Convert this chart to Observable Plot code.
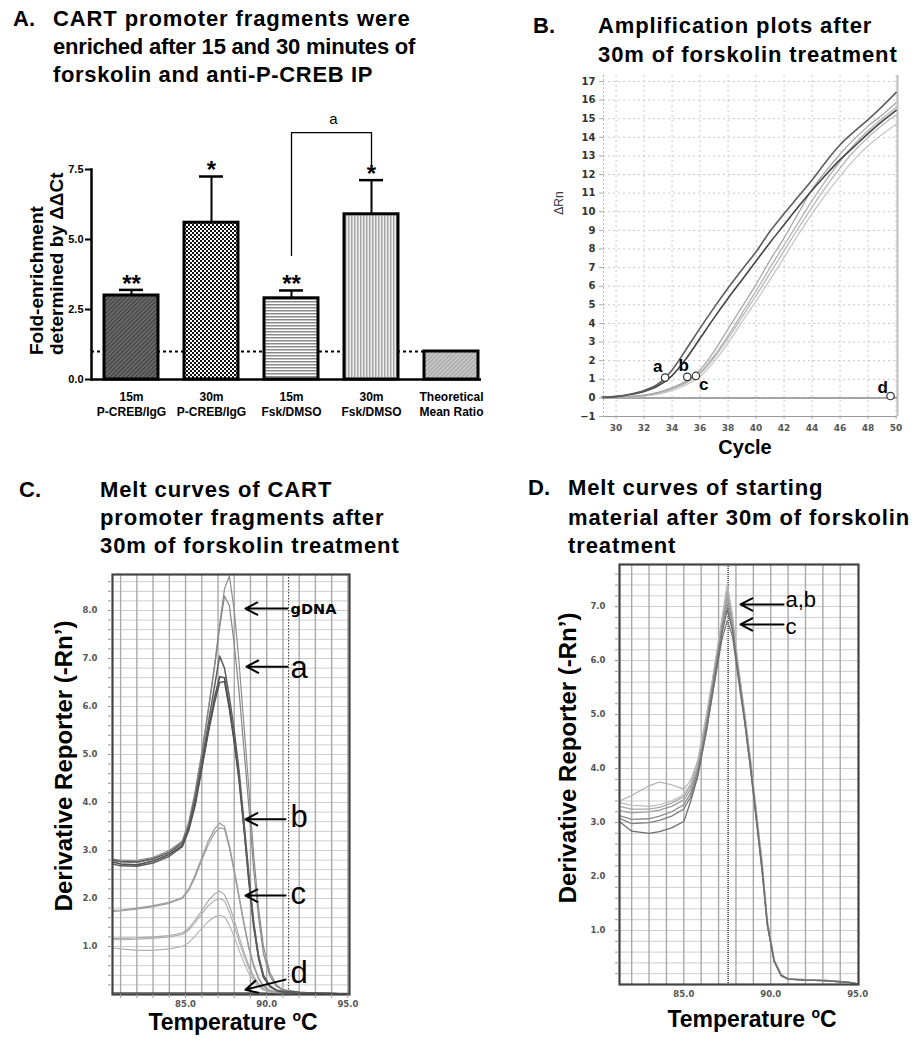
<!DOCTYPE html>
<html><head><meta charset="utf-8">
<script src="https://cdn.jsdelivr.net/npm/d3@7"></script>
<script src="https://cdn.jsdelivr.net/npm/@observablehq/plot@0.6"></script>
<style>
html,body{margin:0;padding:0;background:#fff;}
#page{position:relative;width:924px;height:1050px;overflow:hidden;background:#fff;}
.panel{position:absolute;}
.panel svg{overflow:visible;}
#overlay{position:absolute;left:0;top:0;pointer-events:none;}
</style></head>
<body><div id="page"></div>
<script>
// ================= DATA =================
// Panel A: fold enrichment bars
const aCategories = ["15m\nP-CREB/IgG", "30m\nP-CREB/IgG", "15m\nFsk/DMSO", "30m\nFsk/DMSO", "Theoretical\nMean Ratio"];
const aMeans = [3.0, 5.6, 2.9, 5.9, 1.0];
const aErrorTops = [3.2, 7.25, 3.18, 7.12, null];
const aStars = ["**", "*", "**", "*", ""];
const aTheoretical = 1.0;
const aYTicks = [0, 2.5, 5.0, 7.5];
const aBracketIdx = [2, 2, 3, 3];
const aBracketLevels = [4.43, 8.82, 8.82, 7.55];
const aBracketLabel = "a";
const aBracketLabelLevel = 9.3;

// Panel B: amplification plots
const bCycles = [29,30,31,32,33,34,35,36,37,38,39,40,41,42,43,44,45,46,47,48,49,50];
const bDark1 = [0.03,0.08,0.2,0.4,0.75,1.5,2.6,3.75,4.85,5.9,6.9,7.85,8.95,9.9,10.8,11.7,12.7,13.6,14.3,14.95,15.65,16.4];
const bDark2 = [0.03,0.07,0.18,0.35,0.65,1.2,2.1,3.2,4.3,5.35,6.35,7.35,8.35,9.3,10.25,11.15,12.0,12.8,13.5,14.2,14.85,15.45];
const bLight1 = [0.01,0.03,0.08,0.15,0.3,0.55,0.9,1.5,2.5,3.7,4.9,6.1,7.4,8.6,9.9,11.2,12.2,13.1,13.9,14.6,15.2,15.85];
const bLight2 = [0.01,0.03,0.07,0.14,0.28,0.5,0.85,1.35,2.25,3.35,4.55,5.75,7.0,8.2,9.4,10.6,11.7,12.7,13.6,14.35,15.0,15.6];
const bLight3 = [0.01,0.03,0.07,0.13,0.25,0.48,0.8,1.3,2.15,3.2,4.35,5.5,6.7,7.9,9.1,10.25,11.35,12.35,13.25,14.0,14.65,15.2];
const bLight4 = [0.01,0.02,0.05,0.1,0.2,0.4,0.7,1.15,1.95,2.95,4.1,5.2,6.35,7.55,8.75,9.9,10.95,11.9,12.8,13.55,14.15,14.7];
const bCtLabels = ["a", "b", "c", "d"];
const bCtCycles = [33.5, 35.08, 35.7, 49.6];
const bCtValues = [1.09, 1.13, 1.18, 0.1];
const bLabelCycles = [32.97, 34.82, 36.26, 49.04];
const bLabelValues = [1.67, 1.72, 0.73, 0.56];
const bXTicks = [30,32,34,36,38,40,42,44,46,48,50];
const bYTicks = [-1,0,1,2,3,4,5,6,7,8,9,10,11,12,13,14,15,16,17];

// Panel C: melt curves of CART promoter fragments
const cTemps = [80.5,81,82,83,84,84.8,85.2,85.6,86,86.4,86.8,87.1,87.4,87.7,88,88.3,88.6,88.9,89.2,89.5,89.8,90.2,90.6,91,92,93,94,95];
const cA1 = [2.8,2.77,2.76,2.83,2.96,3.15,3.5,4.1,4.85,5.65,6.45,7.05,6.8,6.2,5.5,4.65,3.6,2.5,1.5,0.8,0.4,0.18,0.09,0.06,0.04,0.03,0.02,0.01];
const cA2 = [2.76,2.72,2.7,2.78,2.92,3.1,3.45,4.0,4.75,5.5,6.2,6.62,6.6,6.0,5.3,4.5,3.5,2.4,1.45,0.78,0.38,0.17,0.09,0.06,0.04,0.03,0.02,0.01];
const cA3 = [2.72,2.68,2.67,2.74,2.88,3.08,3.42,3.95,4.7,5.45,6.1,6.5,6.52,5.95,5.25,4.45,3.45,2.35,1.4,0.75,0.36,0.16,0.08,0.05,0.03,0.02,0.02,0.01];
const cG1 = [2.82,2.8,2.79,2.86,3.0,3.2,3.6,4.25,5.05,5.95,6.9,7.7,8.45,8.72,8.0,6.9,5.6,4.3,2.9,1.8,1.0,0.45,0.2,0.1,0.05,0.03,0.02,0.01];
const cG2 = [2.79,2.76,2.75,2.82,2.97,3.18,3.55,4.2,5.0,5.9,6.85,7.65,8.3,8.1,7.3,6.3,5.1,3.9,2.6,1.6,0.85,0.38,0.17,0.09,0.05,0.03,0.02,0.01];
const cC1 = [1.75,1.76,1.8,1.85,1.92,2.02,2.2,2.5,2.85,3.2,3.45,3.57,3.5,3.1,2.6,2.05,1.5,1.0,0.62,0.35,0.18,0.09,0.05,0.03,0.02,0.02,0.01,0.01];
const cC2 = [1.73,1.74,1.78,1.83,1.9,2.0,2.17,2.45,2.8,3.12,3.37,3.47,3.45,3.05,2.55,2.0,1.45,0.95,0.58,0.32,0.16,0.08,0.04,0.03,0.02,0.01,0.01,0.01];
const cE1 = [1.17,1.17,1.18,1.2,1.23,1.28,1.38,1.55,1.75,1.95,2.1,2.15,2.08,1.85,1.55,1.2,0.88,0.6,0.38,0.22,0.12,0.06,0.04,0.03,0.02,0.01,0.01,0.01];
const cE2 = [1.14,1.14,1.15,1.17,1.2,1.25,1.34,1.5,1.68,1.85,1.96,2.0,1.95,1.72,1.42,1.1,0.8,0.54,0.34,0.2,0.11,0.05,0.03,0.02,0.01,0.01,0.01,0.01];
const cE3 = [0.97,0.95,0.92,0.92,0.95,1.0,1.08,1.22,1.38,1.52,1.62,1.65,1.62,1.45,1.2,0.92,0.66,0.44,0.28,0.16,0.09,0.05,0.03,0.02,0.01,0.01,0.01,0.01];
const cD = [0.03,0.03,0.03,0.03,0.03,0.03,0.03,0.03,0.03,0.03,0.03,0.03,0.03,0.03,0.03,0.03,0.03,0.03,0.03,0.03,0.03,0.02,0.02,0.02,0.02,0.02,0.02,0.02];
const cMarkerTemp = 91.35;
const cLabels = ["gDNA", "a", "b", "c", "d"];
const cLabelTemps = [91.47, 91.47, 91.47, 91.47, 91.47];
const cLabelValues = [8.02, 6.81, 3.69, 2.1, 0.44];
const cArrowFromT = [91.28, 91.28, 91.16, 91.16, 91.16];
const cArrowFromV = [8.04, 6.83, 3.65, 2.06, 0.31];
const cArrowToT = [88.69, 88.75, 88.69, 88.69, 88.69];
const cArrowToV = [8.04, 6.83, 3.65, 2.06, 0.1];
const cYMajor = [1,2,3,4,5,6,7,8];
const cXLabels = [85, 90, 95];

// Panel D: melt curves of starting material
const dTemps = [81.3,82,83,83.6,84.3,85,85.4,85.8,86.3,86.8,87.2,87.5,87.8,88.1,88.5,88.85,89.2,89.5,89.8,90.2,90.6,91,92,93,94,94.5,95];
const dM1 = [3.37,3.32,3.3,3.33,3.4,3.52,3.72,4.1,4.95,5.95,6.8,7.42,6.85,6.0,5.05,4.15,3.15,2.3,1.2,0.46,0.18,0.11,0.09,0.08,0.06,0.04,0.01];
const dM2 = [3.4,3.5,3.68,3.75,3.7,3.62,3.78,4.15,5.0,5.95,6.75,7.3,6.8,5.95,5.0,4.1,3.1,2.25,1.18,0.45,0.18,0.1,0.09,0.08,0.06,0.04,0.01];
const dM3 = [3.22,3.18,3.2,3.23,3.3,3.42,3.62,4.0,4.85,5.85,6.65,7.17,6.7,5.9,4.95,4.05,3.05,2.2,1.15,0.44,0.17,0.1,0.08,0.07,0.06,0.04,0.01];
const dM4 = [3.13,3.06,3.07,3.12,3.2,3.33,3.55,3.95,4.8,5.8,6.6,7.05,6.6,5.85,4.9,4.0,3.0,2.15,1.12,0.43,0.17,0.1,0.08,0.07,0.05,0.04,0.01];
const dM5 = [3.08,2.98,3.0,3.04,3.12,3.25,3.48,3.88,4.7,5.65,6.4,6.74,6.45,5.75,4.85,3.95,2.95,2.1,1.1,0.42,0.16,0.1,0.08,0.07,0.05,0.04,0.01];
const dM6 = [3.02,2.84,2.8,2.83,2.9,3.02,3.4,3.85,4.7,5.7,6.5,6.95,6.55,5.8,4.9,4.0,3.0,2.15,1.12,0.43,0.17,0.1,0.08,0.07,0.05,0.04,0.01];
const dM7 = [3.3,3.25,3.25,3.28,3.36,3.48,3.68,4.05,4.9,5.9,6.72,7.3,6.75,5.95,5.0,4.1,3.1,2.25,1.18,0.45,0.18,0.1,0.09,0.08,0.06,0.04,0.01];
const dMarkerTemp = 87.55;
const dLabels = ["a,b", "c"];
const dLabelTemps = [90.85, 90.85];
const dLabelValues = [7.13, 6.62];
const dArrowFromT = [90.74, 90.74];
const dArrowToT = [88.26, 88.26];
const dArrowV = [7.04, 6.67];
const dYMajor = [1,2,3,4,5,6,7];
const dXLabels = [85, 90, 95];

// Text
const titleA = ["CART promoter fragments were", "enriched after 15 and 30 minutes of", "forskolin and anti-P-CREB IP"];
const titleB = ["Amplification plots after", "30m of forskolin treatment"];
const titleC = ["Melt curves of CART", "promoter fragments after", "30m of forskolin treatment"];
const titleD = ["Melt curves of starting", "material after 30m of forskolin", "treatment"];

// ================= RENDER =================
const FONT = "'Liberation Sans', Arial, Helvetica, sans-serif";
const SMALL = "'DejaVu Sans', Verdana, sans-serif";
const page = document.getElementById("page");
const baseStyle = {background: "transparent", fontFamily: FONT, overflow: "visible", maxWidth: "none", color: "#000"};
function place(el, left, top) {
  const d = document.createElement("div");
  d.className = "panel"; d.style.left = left + "px"; d.style.top = top + "px";
  d.appendChild(el); page.appendChild(d);
}
const rows = (xs, ys) => xs.map((x, i) => ({x, y: ys[i]}));

// ---- Panel A ----
const aPatterns = ["url(#pA1)", "url(#pA2)", "url(#pA3)", "url(#pA4)", "url(#pA5)"];
const aData = aCategories.map((c, i) => ({cat: c, mean: aMeans[i], err: aErrorTops[i], star: aStars[i], pat: aPatterns[i]}));
const aErr = aData.filter(d => d.err != null);
const aBracket = aBracketIdx.map((k, i) => ({cat: aCategories[k], v: aBracketLevels[i]}));
const plotA = Plot.plot({
  width: 500, height: 330,
  marginLeft: 91, marginRight: 9, marginTop: 69, marginBottom: 51,
  style: baseStyle,
  x: {domain: aCategories, padding: 0, axis: null},
  y: {domain: [0, 7.5], axis: null},
  color: {type: "identity"},
  marks: [
    Plot.ruleY([aTheoretical], {strokeDasharray: "3,3", strokeWidth: 2, insetRight: 13}),
    Plot.barY(aData, {x: "cat", y: "mean", fill: "pat", stroke: "#000", strokeWidth: 3, insetLeft: 13, insetRight: 13}),
    Plot.ruleX(aErr, {x: "cat", y1: "mean", y2: "err", strokeWidth: 2}),
    Plot.tickY(aErr, {x: "cat", y: "err", strokeWidth: 2.5, insetLeft: 28, insetRight: 28}),
    Plot.text(aErr, {x: "cat", y: "err", text: "star", dy: -6, fontSize: 24, fontWeight: "bold"}),
    Plot.line(aBracket, {x: "cat", y: "v", strokeWidth: 1.3}),
    Plot.text([{cat: aCategories[3], v: aBracketLabelLevel, t: aBracketLabel}], {x: "cat", y: "v", text: "t", dx: -38, fontSize: 15}),
    Plot.ruleY([0], {strokeWidth: 2.5, insetRight: 10}),
    Plot.frame({anchor: "left", strokeWidth: 2.5}),
    Plot.axisY({ticks: aYTicks, tickFormat: d3.format(".1f"), tickSize: 6, tickPadding: 2, strokeWidth: 2, fontSize: 11, fontWeight: "bold", label: null}),
    Plot.text(aData, {x: "cat", y: 0, text: "cat", lineAnchor: "top", dy: 10, fontSize: 12, fontWeight: "bold", lineHeight: 1.3})
  ]
});
d3.select(plotA).insert("defs", ":first-child").html(`
  <pattern id="pA1" width="3" height="3" patternUnits="userSpaceOnUse" patternTransform="rotate(45)"><rect width="3" height="3" fill="#6e6e6e"/><rect width="1.2" height="3" fill="#3c3c3c"/></pattern>
  <pattern id="pA2" width="4" height="4" patternUnits="userSpaceOnUse"><rect width="4" height="4" fill="#fff"/><rect width="2" height="2" fill="#111"/><rect x="2" y="2" width="2" height="2" fill="#111"/></pattern>
  <pattern id="pA3" width="4" height="3" patternUnits="userSpaceOnUse"><rect width="4" height="3" fill="#fff"/><rect width="4" height="1.5" fill="#8a8a8a"/></pattern>
  <pattern id="pA4" width="3" height="4" patternUnits="userSpaceOnUse"><rect width="3" height="4" fill="#ececec"/><rect width="1.5" height="4" fill="#a8a8a8"/></pattern>
  <pattern id="pA5" width="3" height="3" patternUnits="userSpaceOnUse" patternTransform="rotate(45)"><rect width="3" height="3" fill="#c6c6c6"/><rect width="1" height="3" fill="#a2a2a2"/></pattern>`);
place(plotA, 0, 100);

// ---- Panel B ----
const bSeries = [
  {ys: bLight4, stroke: "#c6c6c6", w: 1.3},
  {ys: bLight3, stroke: "#b8b8b8", w: 1.3},
  {ys: bLight2, stroke: "#b2b2b2", w: 1.3},
  {ys: bLight1, stroke: "#a8a8a8", w: 1.3},
  {ys: bDark2, stroke: "#444", w: 1.6},
  {ys: bDark1, stroke: "#5c5c5c", w: 1.6}
];
const bCt = bCtLabels.map((l, i) => ({label: l, cx: bCtCycles[i], cy: bCtValues[i], lx: bLabelCycles[i], ly: bLabelValues[i]}));
const plotB = Plot.plot({
  width: 454, height: 400,
  marginLeft: 133, marginRight: 27, marginTop: 15, marginBottom: 44,
  style: baseStyle,
  x: {domain: [29.1, 50.1], axis: null},
  y: {domain: [-1, 17.32], axis: null},
  marks: [
    Plot.gridY({ticks: bYTicks, stroke: "#c8c8c8", strokeOpacity: 1, strokeDasharray: "2,3"}),
    Plot.gridX({ticks: bXTicks, stroke: "#c8c8c8", strokeOpacity: 1, strokeDasharray: "2,3"}),
    Plot.ruleX([29.1], {stroke: "#b5b5b5", strokeDasharray: "2,2"}),
    Plot.ruleY([-1], {stroke: "#9a9a9a", strokeWidth: 1.2}),
    Plot.ruleX([50.1], {stroke: "#bdbdbd", strokeWidth: 2}),
    Plot.ruleY([0], {stroke: "#8a8a8a", strokeWidth: 1.5}),
    ...bSeries.map(s => Plot.line(rows(bCycles, s.ys), {x: "x", y: "y", stroke: s.stroke, strokeWidth: s.w, curve: "monotone-x"})),
    Plot.dot(bCt, {x: "cx", y: "cy", r: 3.7, stroke: "#333", strokeWidth: 1.2, fill: "white"}),
    Plot.text(bCt, {x: "lx", y: "ly", text: "label", fontSize: 17, fontWeight: "bold"}),
    Plot.axisY({ticks: bYTicks, tickSize: 4, tickPadding: 4, fontSize: 10, fontWeight: "bold", fontFamily: SMALL, fill: "#333", stroke: "#aaa", label: null}),
    Plot.axisX({ticks: bXTicks, tickSize: 3, tickPadding: 5, fontSize: 9, fontWeight: "bold", fontFamily: SMALL, fill: "#555", stroke: "#aaa", label: null})
  ]
});
place(plotB, 470, 60);

// ---- Panel C ----
const cSeries = [
  {ys: cD, stroke: "#555", w: 1.6},
  {ys: cE3, stroke: "#b2b2b2", w: 1.1},
  {ys: cE2, stroke: "#acacac", w: 1.1},
  {ys: cE1, stroke: "#a6a6a6", w: 1.1},
  {ys: cC2, stroke: "#a0a0a0", w: 1.2},
  {ys: cC1, stroke: "#9a9a9a", w: 1.2},
  {ys: cG1, stroke: "#8c8c8c", w: 1.2},
  {ys: cG2, stroke: "#858585", w: 1.2},
  {ys: cA3, stroke: "#5a5a5a", w: 1.5},
  {ys: cA2, stroke: "#505050", w: 1.6},
  {ys: cA1, stroke: "#5e5e5e", w: 1.5}
];
const cGridV = d3.range(81, 96, 1);
const cGridH = d3.range(1, 44).map(i => +(i * 0.2).toFixed(1));
const cArrows = cLabels.map((l, i) => ({x1: cArrowFromT[i], y1: cArrowFromV[i], x2: cArrowToT[i], y2: cArrowToV[i]}));
const cText = cLabels.map((l, i) => ({t: l, x: cLabelTemps[i], y: cLabelValues[i]}));
const plotC = Plot.plot({
  width: 470, height: 460,
  marginLeft: 112, marginRight: 121, marginTop: 14, marginBottom: 26,
  style: baseStyle,
  x: {domain: [80.5, 95.1], axis: null},
  y: {domain: [0, 8.75], axis: null},
  marks: [
    Plot.gridY({ticks: cGridH, stroke: "#cdcdcd", strokeOpacity: 1, strokeWidth: 1}),
    Plot.gridX({ticks: cGridV, stroke: "#a9a9a9", strokeOpacity: 1, strokeWidth: 1.4}),
    Plot.ruleX([cMarkerTemp], {stroke: "#333", strokeDasharray: "1.5,1.5"}),
    ...cSeries.map(s => Plot.line(rows(cTemps, s.ys), {x: "x", y: "y", stroke: s.stroke, strokeWidth: s.w})),
    Plot.arrow(cArrows, {x1: "x1", y1: "y1", x2: "x2", y2: "y2", stroke: "#000", strokeWidth: 2, headLength: 10, headAngle: 55}),
    Plot.text(cText.slice(0, 1), {x: "x", y: "y", text: "t", textAnchor: "start", fontSize: 14.5, fontWeight: "bold", fontFamily: SMALL}),
    Plot.text(cText.slice(1), {x: "x", y: "y", text: "t", textAnchor: "start", fontSize: 31}),
    Plot.frame({stroke: "#444", strokeWidth: 2.2}),
    Plot.axisY({ticks: cGridH, tickSize: 4, tickFormat: () => "", stroke: "#999", label: null}),
    Plot.axisY({ticks: cYMajor, tickSize: 4, tickPadding: 11, tickFormat: d3.format(".1f"), fontSize: 8.5, fontWeight: "bold", fontFamily: SMALL, fill: "#555", stroke: "#999", label: null}),
    Plot.axisX({ticks: cGridV, tickSize: 4, tickFormat: () => "", stroke: "#999", label: null}),
    Plot.axisX({ticks: cXLabels, tickSize: 0, tickPadding: 6, tickFormat: d3.format(".1f"), fontSize: 8.5, fontWeight: "bold", fontFamily: SMALL, fill: "#555", label: null})
  ]
});
place(plotC, 0, 560);

// ---- Panel D ----
const dSeries = [
  {ys: dM2, stroke: "#b0b0b0", w: 1.2},
  {ys: dM7, stroke: "#a8a8a8", w: 1.2},
  {ys: dM1, stroke: "#b8b8b8", w: 1.2},
  {ys: dM3, stroke: "#9a9a9a", w: 1.2},
  {ys: dM4, stroke: "#8a8a8a", w: 1.3},
  {ys: dM5, stroke: "#7e7e7e", w: 1.3},
  {ys: dM6, stroke: "#6e6e6e", w: 1.3}
];
const dGridV = d3.range(82, 95, 1);
const dGridH = d3.range(1, 39).map(i => +(i * 0.2).toFixed(1));
const dArrows = dLabels.map((l, i) => ({x1: dArrowFromT[i], x2: dArrowToT[i], y: dArrowV[i]}));
const dText = dLabels.map((l, i) => ({t: l, x: dLabelTemps[i], y: dLabelValues[i]}));
const plotD = Plot.plot({
  width: 454, height: 470,
  marginLeft: 149, marginRight: 66, marginTop: 14, marginBottom: 36,
  style: baseStyle,
  x: {domain: [81.3, 95.05], axis: null},
  y: {domain: [0, 7.78], axis: null},
  marks: [
    Plot.gridY({ticks: dGridH, stroke: "#cdcdcd", strokeOpacity: 1, strokeWidth: 1}),
    Plot.gridX({ticks: dGridV, stroke: "#a9a9a9", strokeOpacity: 1, strokeWidth: 1.4}),
    Plot.ruleX([dMarkerTemp], {stroke: "#444", strokeDasharray: "1,1", strokeWidth: 1.6}),
    ...dSeries.map(s => Plot.line(rows(dTemps, s.ys), {x: "x", y: "y", stroke: s.stroke, strokeWidth: s.w})),
    Plot.arrow(dArrows, {x1: "x1", y1: "y", x2: "x2", y2: "y", stroke: "#000", strokeWidth: 2, headLength: 10, headAngle: 55}),
    Plot.text(dText, {x: "x", y: "y", text: "t", textAnchor: "start", fontSize: 22}),
    Plot.frame({stroke: "#444", strokeWidth: 2.2}),
    Plot.axisY({ticks: dGridH, tickSize: 4, tickFormat: () => "", stroke: "#999", label: null}),
    Plot.axisY({ticks: dYMajor, tickSize: 4, tickPadding: 10, tickFormat: d3.format(".1f"), fontSize: 8.5, fontWeight: "bold", fontFamily: SMALL, fill: "#555", stroke: "#999", label: null}),
    Plot.axisX({ticks: dXLabels, tickSize: 0, tickPadding: 6, tickFormat: d3.format(".1f"), fontSize: 8.5, fontWeight: "bold", fontFamily: SMALL, fill: "#555", label: null})
  ]
});
place(plotD, 470, 550);

// ---- Overlay text: titles and axis titles ----
const NS = "http://www.w3.org/2000/svg";
const ov = document.createElementNS(NS, "svg");
ov.setAttribute("id", "overlay"); ov.setAttribute("width", 924); ov.setAttribute("height", 1050);
page.appendChild(ov);
function txt(s, x, y, o = {}) {
  const t = document.createElementNS(NS, "text");
  t.setAttribute("x", 0); t.setAttribute("y", 0);
  t.setAttribute("transform", `translate(${x},${y})` + (o.rotate ? ` rotate(${o.rotate})` : ""));
  t.setAttribute("font-family", o.family || FONT);
  t.setAttribute("font-size", o.size || 22);
  t.setAttribute("font-weight", o.weight || "bold");
  t.setAttribute("text-anchor", o.anchor || "start");
  t.setAttribute("fill", o.fill || "#000");
  if (o.ls != null) t.setAttribute("letter-spacing", o.ls);
  if (Array.isArray(s)) {
    s.forEach(p => { const ts = document.createElementNS(NS, "tspan"); ts.textContent = p.t; if (p.size) ts.setAttribute("font-size", p.size); if (p.dy) ts.setAttribute("dy", p.dy); t.appendChild(ts); });
  } else t.textContent = s;
  ov.appendChild(t);
  return t;
}
function title(letter, lx, lines, tx, baselines, spacings) {
  txt(letter, lx, baselines[0], {size: 22});
  lines.forEach((l, i) => txt(l, tx, baselines[i], {size: 22, ls: spacings[i]}));
}
title("A.", 13, titleA, 53, [26, 54, 82], [0.9, -0.2, 0.65]);
title("B.", 533, titleB, 598, [33, 62], [0.9, 0.9]);
title("C.", 19, titleC, 100, [497, 525, 553], [0.9, 0.9, 0.9]);
title("D.", 528, titleD, 568, [495, 525, 553], [0.9, 0.9, 0.9]);

// Panel A y-axis title
txt("Fold-enrichment", 43, 355, {size: 19, rotate: -90});
txt("determined by \u0394\u0394Ct", 63, 355, {size: 19, rotate: -90});
// Panel B axis titles
txt("\u0394Rn", 563, 203, {size: 12, weight: "normal", rotate: -90, anchor: "middle", fill: "#333"});
txt("Cycle", 745, 454, {size: 20, anchor: "middle"});
// Panel C axis titles
txt("Derivative Reporter (-Rn\u2019)", 72, 766, {size: 24, rotate: -90, anchor: "middle"});
txt([{t: "Temperature "}, {t: "o", size: 14, dy: -9}, {t: "C", dy: 9}], 233, 1030, {size: 23, anchor: "middle"});
// Panel D axis titles
txt("Derivative Reporter (-Rn\u2019)", 576, 758, {size: 24, rotate: -90, anchor: "middle"});
txt([{t: "Temperature "}, {t: "o", size: 14, dy: -9}, {t: "C", dy: 9}], 752, 1027, {size: 23, anchor: "middle"});
</script>
</body></html>
